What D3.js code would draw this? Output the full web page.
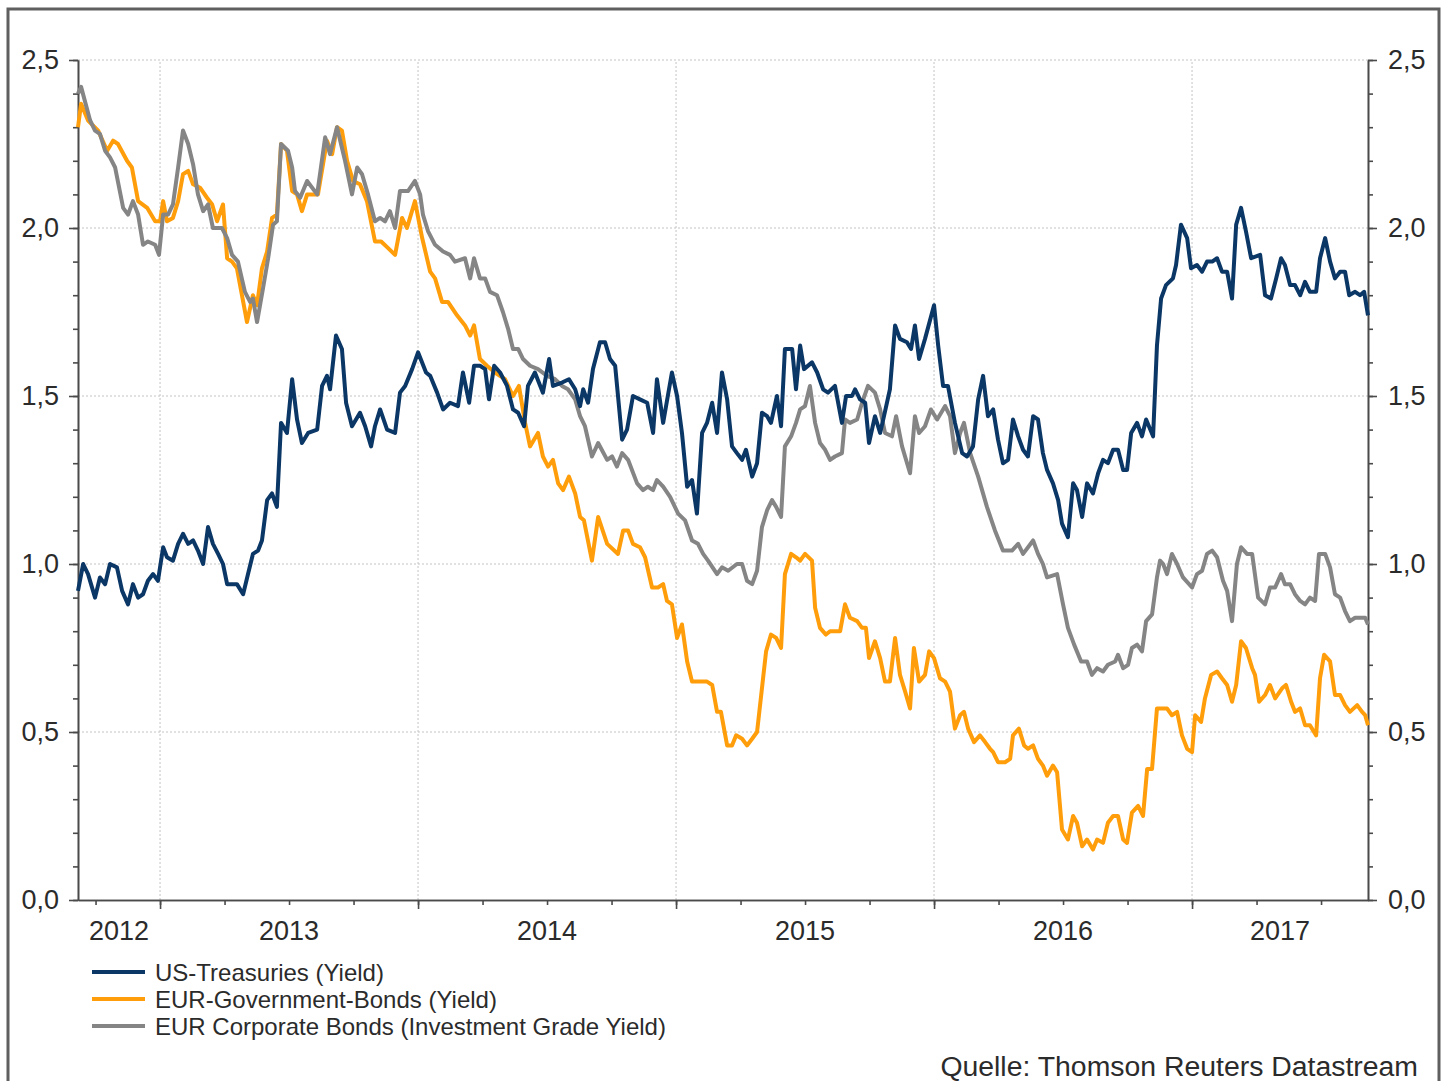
<!DOCTYPE html>
<html>
<head>
<meta charset="utf-8">
<script src="https://cdn.jsdelivr.net/npm/d3@7"></script>
<style>
  body { margin: 0; background: #fff; }
  svg { display: block; font-family: "Liberation Sans", Arial, sans-serif; }
</style>
</head>
<body>
<div id="chart"></div>
<script>
// Yields in % against decimal year
const usTreasuries = [
  [2012.682,0.92],[2012.702,1.00],[2012.721,0.97],[2012.748,0.90],[2012.767,0.96],[2012.787,0.94],[2012.806,1.00],[2012.833,0.99],[2012.853,0.92],[2012.876,0.88],[2012.895,0.94],[2012.915,0.90],[2012.934,0.91],[2012.953,0.95],[2012.973,0.97],[2012.992,0.95],
  [2013.012,1.05],[2013.027,1.02],[2013.050,1.01],[2013.070,1.06],[2013.089,1.09],[2013.109,1.06],[2013.128,1.07],[2013.147,1.04],[2013.167,1.00],[2013.186,1.11],[2013.205,1.06],[2013.225,1.03],[2013.244,1.00],[2013.260,0.94],[2013.279,0.94],[2013.298,0.94],[2013.322,0.91],[2013.341,0.97],[2013.360,1.03],[2013.380,1.04],[2013.395,1.07],[2013.415,1.19],[2013.434,1.21],[2013.453,1.17],[2013.469,1.42],[2013.492,1.39],[2013.512,1.55],[2013.531,1.43],[2013.550,1.36],[2013.574,1.39],[2013.609,1.40],[2013.628,1.53],[2013.647,1.56],[2013.659,1.52],[2013.682,1.68],[2013.705,1.64],[2013.721,1.48],[2013.744,1.41],[2013.775,1.45],[2013.795,1.41],[2013.818,1.35],[2013.833,1.41],[2013.853,1.46],[2013.880,1.40],[2013.911,1.39],[2013.930,1.51],[2013.950,1.53],[2013.977,1.58],
  [2014.000,1.63],[2014.031,1.57],[2014.047,1.56],[2014.074,1.51],[2014.097,1.46],[2014.124,1.48],[2014.155,1.47],[2014.174,1.57],[2014.198,1.48],[2014.217,1.59],[2014.240,1.59],[2014.260,1.58],[2014.275,1.49],[2014.295,1.59],[2014.318,1.57],[2014.345,1.53],[2014.368,1.46],[2014.388,1.45],[2014.411,1.41],[2014.426,1.53],[2014.453,1.57],[2014.484,1.51],[2014.508,1.61],[2014.523,1.53],[2014.558,1.54],[2014.585,1.55],[2014.609,1.52],[2014.628,1.47],[2014.640,1.52],[2014.659,1.48],[2014.678,1.58],[2014.705,1.66],[2014.725,1.66],[2014.744,1.61],[2014.764,1.59],[2014.791,1.37],[2014.810,1.40],[2014.833,1.50],[2014.860,1.49],[2014.888,1.48],[2014.911,1.39],[2014.926,1.55],[2014.950,1.42],[2014.984,1.57],
  [2015.004,1.50],[2015.023,1.39],[2015.043,1.23],[2015.062,1.25],[2015.081,1.15],[2015.101,1.39],[2015.120,1.42],[2015.140,1.48],[2015.159,1.39],[2015.178,1.57],[2015.198,1.49],[2015.217,1.35],[2015.236,1.33],[2015.256,1.31],[2015.271,1.34],[2015.295,1.26],[2015.314,1.30],[2015.333,1.45],[2015.353,1.44],[2015.368,1.42],[2015.391,1.50],[2015.407,1.41],[2015.422,1.64],[2015.450,1.64],[2015.465,1.52],[2015.481,1.65],[2015.496,1.58],[2015.527,1.60],[2015.547,1.57],[2015.570,1.52],[2015.589,1.51],[2015.616,1.53],[2015.643,1.42],[2015.659,1.50],[2015.682,1.50],[2015.694,1.52],[2015.713,1.49],[2015.733,1.48],[2015.748,1.36],[2015.771,1.44],[2015.791,1.39],[2015.806,1.44],[2015.829,1.52],[2015.849,1.71],[2015.868,1.67],[2015.895,1.66],[2015.911,1.64],[2015.926,1.71],[2015.942,1.61],[2015.965,1.67],
  [2016.000,1.77],[2016.016,1.65],[2016.035,1.53],[2016.054,1.53],[2016.081,1.42],[2016.109,1.33],[2016.128,1.32],[2016.151,1.35],[2016.171,1.49],[2016.190,1.56],[2016.209,1.44],[2016.229,1.46],[2016.248,1.37],[2016.267,1.30],[2016.287,1.31],[2016.306,1.43],[2016.326,1.38],[2016.345,1.34],[2016.364,1.32],[2016.384,1.44],[2016.403,1.43],[2016.422,1.33],[2016.438,1.28],[2016.461,1.24],[2016.481,1.19],[2016.496,1.12],[2016.519,1.08],[2016.539,1.24],[2016.554,1.22],[2016.574,1.14],[2016.593,1.24],[2016.616,1.21],[2016.636,1.27],[2016.655,1.31],[2016.674,1.30],[2016.694,1.34],[2016.713,1.34],[2016.733,1.28],[2016.748,1.28],[2016.764,1.39],[2016.787,1.42],[2016.806,1.38],[2016.822,1.43],[2016.849,1.38],[2016.864,1.65],[2016.880,1.79],[2016.899,1.83],[2016.926,1.85],[2016.938,1.89],[2016.957,2.01],[2016.981,1.97],[2016.996,1.88],
  [2017.019,1.89],[2017.039,1.87],[2017.058,1.90],[2017.078,1.90],[2017.097,1.91],[2017.116,1.87],[2017.136,1.87],[2017.155,1.79],[2017.171,2.01],[2017.190,2.06],[2017.209,1.99],[2017.229,1.91],[2017.264,1.92],[2017.283,1.80],[2017.306,1.79],[2017.326,1.85],[2017.345,1.91],[2017.360,1.89],[2017.380,1.83],[2017.399,1.83],[2017.419,1.80],[2017.438,1.84],[2017.457,1.81],[2017.481,1.81],[2017.496,1.91],[2017.516,1.97],[2017.535,1.90],[2017.554,1.85],[2017.574,1.87],[2017.593,1.87],[2017.609,1.80],[2017.632,1.81],[2017.651,1.80],[2017.667,1.81],[2017.682,1.74]
];

const eurGovBonds = [
  [2012.682,2.30],[2012.694,2.37],[2012.721,2.32],[2012.760,2.29],[2012.795,2.23],[2012.818,2.26],[2012.837,2.25],[2012.872,2.20],[2012.891,2.18],[2012.915,2.08],[2012.950,2.06],[2012.981,2.02],
  [2013.000,2.02],[2013.012,2.08],[2013.027,2.02],[2013.050,2.03],[2013.070,2.08],[2013.089,2.16],[2013.109,2.17],[2013.128,2.13],[2013.155,2.12],[2013.182,2.09],[2013.202,2.07],[2013.221,2.02],[2013.244,2.07],[2013.260,1.91],[2013.279,1.90],[2013.298,1.88],[2013.337,1.72],[2013.360,1.80],[2013.376,1.77],[2013.395,1.88],[2013.415,1.93],[2013.434,2.03],[2013.453,2.04],[2013.469,2.25],[2013.492,2.23],[2013.512,2.11],[2013.531,2.10],[2013.550,2.05],[2013.570,2.10],[2013.593,2.10],[2013.612,2.10],[2013.647,2.26],[2013.667,2.22],[2013.686,2.30],[2013.705,2.29],[2013.725,2.20],[2013.748,2.14],[2013.775,2.13],[2013.802,2.08],[2013.833,1.96],[2013.857,1.96],[2013.884,1.94],[2013.911,1.92],[2013.938,2.03],[2013.957,2.00],[2013.988,2.08],
  [2014.016,1.97],[2014.047,1.87],[2014.066,1.85],[2014.093,1.78],[2014.116,1.78],[2014.151,1.74],[2014.182,1.71],[2014.202,1.68],[2014.217,1.71],[2014.240,1.61],[2014.267,1.59],[2014.298,1.57],[2014.337,1.55],[2014.368,1.50],[2014.391,1.53],[2014.415,1.42],[2014.434,1.35],[2014.465,1.39],[2014.484,1.32],[2014.504,1.29],[2014.523,1.31],[2014.543,1.24],[2014.562,1.22],[2014.585,1.26],[2014.609,1.21],[2014.628,1.14],[2014.643,1.13],[2014.674,1.01],[2014.698,1.14],[2014.733,1.06],[2014.775,1.03],[2014.795,1.10],[2014.814,1.10],[2014.833,1.06],[2014.860,1.05],[2014.880,1.02],[2014.907,0.93],[2014.930,0.93],[2014.950,0.94],[2014.965,0.89],[2014.984,0.88],
  [2015.004,0.78],[2015.023,0.82],[2015.043,0.71],[2015.062,0.65],[2015.093,0.65],[2015.120,0.65],[2015.140,0.64],[2015.159,0.56],[2015.174,0.56],[2015.198,0.46],[2015.217,0.46],[2015.233,0.49],[2015.256,0.48],[2015.275,0.46],[2015.295,0.48],[2015.314,0.50],[2015.333,0.63],[2015.349,0.74],[2015.368,0.79],[2015.388,0.78],[2015.407,0.75],[2015.422,0.97],[2015.446,1.03],[2015.465,1.02],[2015.481,1.01],[2015.500,1.03],[2015.527,1.01],[2015.539,0.87],[2015.558,0.81],[2015.581,0.79],[2015.597,0.80],[2015.636,0.80],[2015.655,0.88],[2015.674,0.84],[2015.702,0.83],[2015.721,0.81],[2015.736,0.81],[2015.748,0.72],[2015.771,0.77],[2015.791,0.72],[2015.810,0.65],[2015.829,0.65],[2015.849,0.78],[2015.868,0.67],[2015.888,0.62],[2015.907,0.57],[2015.922,0.75],[2015.942,0.65],[2015.965,0.67],[2015.981,0.74],
  [2016.000,0.72],[2016.023,0.66],[2016.043,0.65],[2016.062,0.62],[2016.081,0.51],[2016.101,0.55],[2016.116,0.56],[2016.132,0.51],[2016.155,0.47],[2016.178,0.49],[2016.198,0.47],[2016.217,0.45],[2016.229,0.44],[2016.248,0.41],[2016.275,0.41],[2016.295,0.42],[2016.306,0.49],[2016.329,0.51],[2016.349,0.46],[2016.364,0.45],[2016.384,0.46],[2016.403,0.42],[2016.422,0.40],[2016.438,0.37],[2016.461,0.40],[2016.477,0.38],[2016.496,0.21],[2016.519,0.18],[2016.539,0.25],[2016.554,0.23],[2016.574,0.16],[2016.593,0.18],[2016.616,0.15],[2016.632,0.18],[2016.655,0.17],[2016.674,0.23],[2016.694,0.25],[2016.713,0.25],[2016.733,0.18],[2016.748,0.17],[2016.767,0.26],[2016.791,0.28],[2016.810,0.25],[2016.826,0.39],[2016.845,0.39],[2016.864,0.57],[2016.903,0.57],[2016.922,0.55],[2016.942,0.56],[2016.961,0.49],[2016.981,0.45],
  [2017.000,0.44],[2017.012,0.55],[2017.035,0.53],[2017.050,0.60],[2017.074,0.67],[2017.097,0.68],[2017.116,0.66],[2017.136,0.64],[2017.155,0.59],[2017.171,0.64],[2017.190,0.77],[2017.209,0.75],[2017.233,0.69],[2017.244,0.67],[2017.260,0.59],[2017.283,0.61],[2017.302,0.64],[2017.322,0.60],[2017.349,0.63],[2017.364,0.64],[2017.384,0.59],[2017.399,0.56],[2017.419,0.57],[2017.438,0.52],[2017.457,0.52],[2017.481,0.49],[2017.496,0.66],[2017.512,0.73],[2017.535,0.71],[2017.554,0.61],[2017.574,0.61],[2017.593,0.58],[2017.612,0.56],[2017.640,0.58],[2017.659,0.56],[2017.671,0.55],[2017.682,0.52]
];

const eurCorpBonds = [
  [2012.682,2.40],[2012.694,2.42],[2012.729,2.32],[2012.748,2.29],[2012.767,2.28],[2012.787,2.23],[2012.806,2.21],[2012.826,2.18],[2012.857,2.06],[2012.876,2.04],[2012.895,2.08],[2012.915,2.04],[2012.934,1.95],[2012.953,1.96],[2012.981,1.95],[2012.996,1.92],
  [2013.012,2.04],[2013.031,2.04],[2013.050,2.07],[2013.070,2.18],[2013.089,2.29],[2013.109,2.25],[2013.128,2.19],[2013.147,2.10],[2013.167,2.05],[2013.186,2.07],[2013.205,2.00],[2013.240,2.00],[2013.260,1.97],[2013.279,1.92],[2013.302,1.90],[2013.329,1.81],[2013.349,1.78],[2013.360,1.79],[2013.376,1.72],[2013.399,1.82],[2013.419,1.91],[2013.438,2.01],[2013.453,2.02],[2013.469,2.25],[2013.496,2.23],[2013.512,2.18],[2013.523,2.11],[2013.543,2.09],[2013.570,2.14],[2013.609,2.10],[2013.640,2.27],[2013.659,2.22],[2013.686,2.30],[2013.717,2.20],[2013.744,2.10],[2013.764,2.18],[2013.783,2.16],[2013.806,2.10],[2013.833,2.02],[2013.853,2.03],[2013.872,2.02],[2013.891,2.05],[2013.911,2.00],[2013.930,2.11],[2013.961,2.11],[2013.988,2.14],
  [2014.008,2.10],[2014.019,2.04],[2014.039,1.99],[2014.066,1.95],[2014.097,1.93],[2014.124,1.92],[2014.143,1.90],[2014.182,1.91],[2014.202,1.85],[2014.217,1.91],[2014.240,1.85],[2014.260,1.85],[2014.279,1.81],[2014.306,1.80],[2014.329,1.75],[2014.349,1.70],[2014.368,1.64],[2014.388,1.64],[2014.407,1.61],[2014.434,1.59],[2014.465,1.58],[2014.500,1.56],[2014.531,1.55],[2014.558,1.53],[2014.581,1.52],[2014.609,1.49],[2014.628,1.44],[2014.647,1.41],[2014.674,1.32],[2014.698,1.36],[2014.733,1.31],[2014.752,1.32],[2014.771,1.29],[2014.791,1.33],[2014.814,1.31],[2014.849,1.24],[2014.872,1.22],[2014.891,1.23],[2014.911,1.22],[2014.926,1.25],[2014.950,1.23],[2014.977,1.20],
  [2015.008,1.15],[2015.035,1.13],[2015.062,1.07],[2015.085,1.06],[2015.105,1.03],[2015.124,1.01],[2015.159,0.97],[2015.178,0.99],[2015.202,0.98],[2015.236,1.00],[2015.256,1.00],[2015.275,0.95],[2015.295,0.94],[2015.314,0.98],[2015.333,1.11],[2015.353,1.16],[2015.372,1.19],[2015.388,1.17],[2015.407,1.14],[2015.422,1.35],[2015.446,1.38],[2015.465,1.42],[2015.481,1.46],[2015.500,1.47],[2015.519,1.53],[2015.539,1.42],[2015.558,1.36],[2015.578,1.34],[2015.597,1.31],[2015.616,1.32],[2015.643,1.33],[2015.655,1.43],[2015.674,1.42],[2015.702,1.43],[2015.721,1.48],[2015.744,1.53],[2015.771,1.51],[2015.791,1.46],[2015.810,1.39],[2015.837,1.38],[2015.853,1.44],[2015.876,1.35],[2015.907,1.27],[2015.926,1.44],[2015.942,1.39],[2015.965,1.41],[2015.988,1.46],
  [2016.012,1.43],[2016.043,1.47],[2016.062,1.44],[2016.081,1.33],[2016.101,1.39],[2016.116,1.42],[2016.140,1.33],[2016.171,1.26],[2016.205,1.17],[2016.236,1.10],[2016.267,1.04],[2016.302,1.04],[2016.326,1.06],[2016.345,1.03],[2016.384,1.07],[2016.403,1.03],[2016.422,1.00],[2016.438,0.96],[2016.477,0.97],[2016.500,0.88],[2016.519,0.81],[2016.543,0.76],[2016.570,0.71],[2016.593,0.71],[2016.612,0.67],[2016.632,0.69],[2016.655,0.68],[2016.674,0.70],[2016.702,0.71],[2016.713,0.73],[2016.733,0.69],[2016.752,0.70],[2016.767,0.75],[2016.787,0.76],[2016.806,0.74],[2016.822,0.83],[2016.845,0.85],[2016.864,0.96],[2016.876,1.01],[2016.888,1.00],[2016.903,0.97],[2016.922,1.03],[2016.942,1.00],[2016.965,0.96],
  [2017.000,0.93],[2017.019,0.97],[2017.039,0.98],[2017.058,1.03],[2017.078,1.04],[2017.097,1.02],[2017.120,0.95],[2017.136,0.92],[2017.155,0.83],[2017.174,1.00],[2017.190,1.05],[2017.213,1.03],[2017.233,1.03],[2017.256,0.90],[2017.283,0.88],[2017.302,0.93],[2017.322,0.93],[2017.345,0.97],[2017.360,0.94],[2017.380,0.94],[2017.399,0.91],[2017.419,0.89],[2017.438,0.88],[2017.457,0.90],[2017.477,0.89],[2017.492,1.03],[2017.516,1.03],[2017.535,0.99],[2017.554,0.91],[2017.574,0.90],[2017.593,0.86],[2017.612,0.83],[2017.632,0.84],[2017.651,0.84],[2017.671,0.84],[2017.682,0.82]
];

const yTicks = [0, 0.5, 1, 1.5, 2, 2.5];
const yearLabels = [2012, 2013, 2014, 2015, 2016, 2017];
const seriesNames = ["US-Treasuries (Yield)", "EUR-Government-Bonds (Yield)", "EUR Corporate Bonds (Investment Grade Yield)"];
const seriesColors = ["#0b3766", "#ff9e0a", "#858585"];
const sourceText = "Quelle: Thomson Reuters Datastream";

const W = 1452, H = 1081;
const margin = { top: 60, right: 84, bottom: 181, left: 78 };
const xDomain = [2012.682, 2017.682];

const svg = d3.select("#chart").append("svg")
    .attr("width", W)
    .attr("height", H);

// Outer frame
svg.append("rect")
    .attr("x", 8).attr("y", 9)
    .attr("width", 1431).attr("height", 1090)
    .attr("fill", "none")
    .attr("stroke", "#5f5f5f")
    .attr("stroke-width", 3);

const x = d3.scaleLinear().domain(xDomain).range([margin.left, W - margin.right]);
const y = d3.scaleLinear().domain([0, 2.5]).range([H - margin.bottom, margin.top]);

const fmt = d => d3.format(".1f")(d).replace(".", ",");
const minorY = d3.range(0, 2.51, 0.1);
const quarterTicks = d3.range(2012.75, xDomain[1], 0.25);
const yearTicks = d3.range(2013, 2018);

// Grid (dotted)
const grid = svg.append("g").attr("stroke", "#c4c4c4").attr("stroke-width", 1).attr("stroke-dasharray", "2,2");
grid.selectAll(".hg").data(yTicks.slice(1)).enter().append("line")
    .attr("x1", x.range()[0]).attr("x2", x.range()[1])
    .attr("y1", d => y(d)).attr("y2", d => y(d));
grid.selectAll(".vg").data(yearTicks).enter().append("line")
    .attr("x1", d => x(d)).attr("x2", d => x(d))
    .attr("y1", y(0)).attr("y2", y(2.5));

function styleAxis(g) {
    g.selectAll("path, line").attr("stroke", "#4a4a4a").attr("stroke-width", 1.6);
    g.selectAll("text").attr("fill", "#2b2b2b").style("font-size", "27px")
        .style("font-family", '"Liberation Sans", Arial, sans-serif');
}

// Left axis
svg.append("g").attr("transform", `translate(${x.range()[0]},0)`)
    .call(d3.axisLeft(y).tickValues(minorY).tickSize(5).tickSizeOuter(0).tickFormat(""))
    .call(styleAxis);
svg.append("g").attr("transform", `translate(${x.range()[0]},0)`)
    .call(d3.axisLeft(y).tickValues(yTicks).tickSize(9).tickSizeOuter(0).tickPadding(10).tickFormat(fmt))
    .call(styleAxis);

// Right axis
svg.append("g").attr("transform", `translate(${x.range()[1]},0)`)
    .call(d3.axisRight(y).tickValues(minorY).tickSize(5).tickSizeOuter(0).tickFormat(""))
    .call(styleAxis);
svg.append("g").attr("transform", `translate(${x.range()[1]},0)`)
    .call(d3.axisRight(y).tickValues(yTicks).tickSize(9).tickSizeOuter(0).tickPadding(11).tickFormat(fmt))
    .call(styleAxis);

// Bottom axis
svg.append("g").attr("transform", `translate(0,${y(0)})`)
    .call(d3.axisBottom(x).tickValues(quarterTicks).tickSize(5).tickSizeOuter(0).tickFormat(""))
    .call(styleAxis);
svg.append("g").attr("transform", `translate(0,${y(0)})`)
    .call(d3.axisBottom(x).tickValues(yearTicks).tickSize(9).tickSizeOuter(0).tickFormat(""))
    .call(styleAxis);

// Year labels centred in each visible year
svg.append("g").selectAll("text").data(yearLabels).enter().append("text")
    .attr("x", d => (x(Math.max(d, xDomain[0])) + x(Math.min(d + 1, xDomain[1]))) / 2)
    .attr("y", 940)
    .attr("text-anchor", "middle")
    .attr("fill", "#2b2b2b")
    .style("font-size", "27px")
    .text(d => d);

// Lines
const line = d3.line().x(d => x(d[0])).y(d => y(d[1]));
const series = [usTreasuries, eurGovBonds, eurCorpBonds];
const drawOrder = [1, 2, 0];
drawOrder.forEach(i => {
    svg.append("path")
        .datum(series[i])
        .attr("fill", "none")
        .attr("stroke", seriesColors[i])
        .attr("stroke-width", 4)
        .attr("stroke-linejoin", "round")
        .attr("d", line);
});

// Legend
const legend = svg.append("g").selectAll("g").data(seriesNames).enter().append("g")
    .attr("transform", (d, i) => `translate(92,${972 + i * 27})`);
legend.append("line")
    .attr("x1", 0).attr("x2", 53)
    .attr("stroke", (d, i) => seriesColors[i])
    .attr("stroke-width", 4);
legend.append("text")
    .attr("x", 63).attr("y", 9)
    .attr("fill", "#2b2b2b")
    .style("font-size", "24px")
    .text(d => d);

// Source
svg.append("text")
    .attr("x", 1418).attr("y", 1076)
    .attr("text-anchor", "end")
    .attr("fill", "#2b2b2b")
    .style("font-size", "28.4px")
    .text(sourceText);
</script>
</body>
</html>
